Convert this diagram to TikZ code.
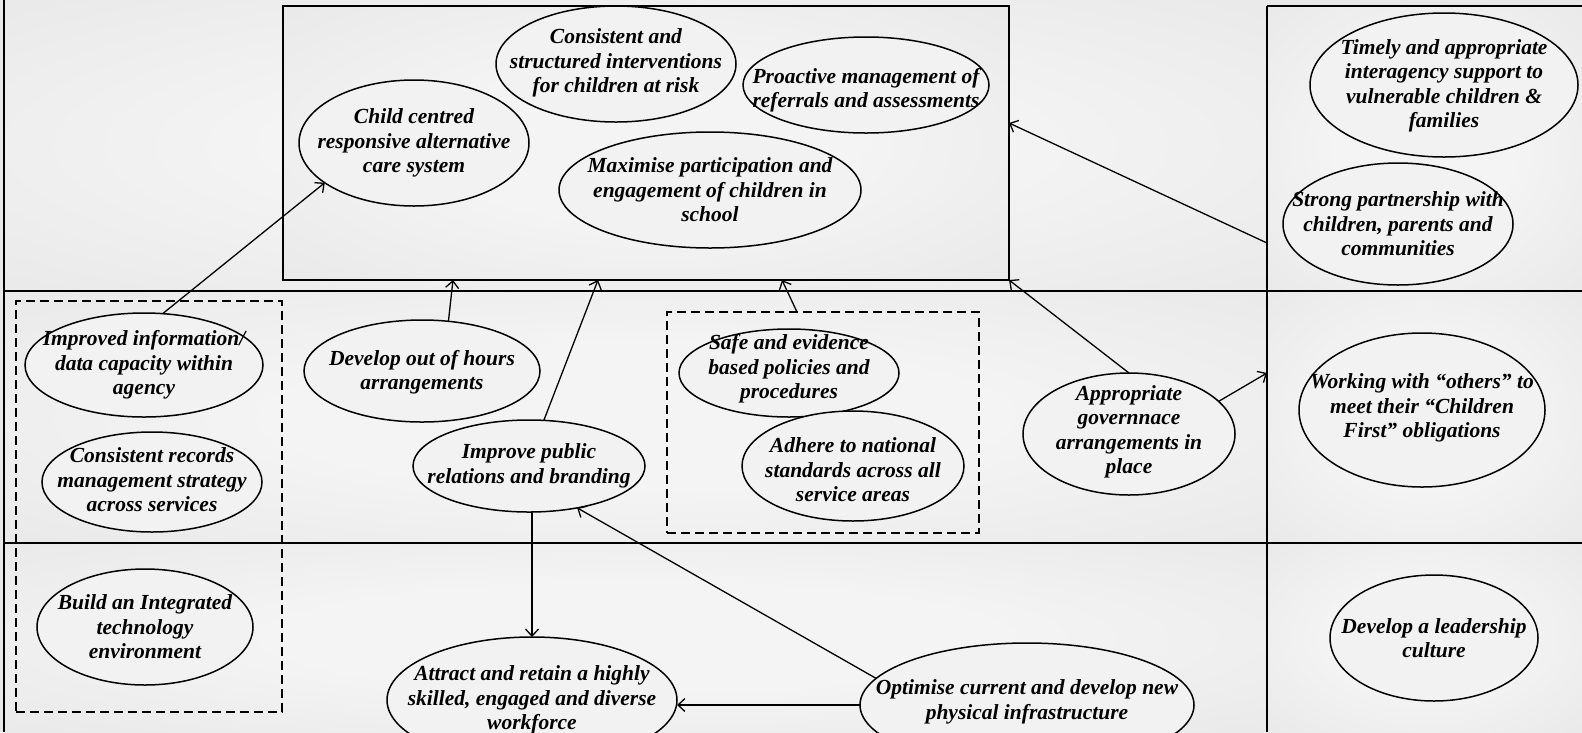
\documentclass[tikz,border=0pt]{standalone}
\usepackage{fontspec}
\setmainfont{Liberation Serif}
\usetikzlibrary{shapes.geometric,arrows.meta,calc}
\definecolor{bgin}{gray}{0.955}
\definecolor{bgmid}{gray}{0.91}
\definecolor{bgout}{gray}{0.82}
\definecolor{ellfill}{gray}{0.95}
\pgfdeclareradialshading{bgshade}{\pgfpointorigin}{color(0bp)=(bgin); color(15bp)=(bgin); color(38bp)=(bgmid); color(60bp)=(bgout); color(71bp)=(bgout)}
\newcommand{\lblfont}{\fontsize{21.5}{24.5}\selectfont\bfseries\itshape}
\begin{document}
\begin{tikzpicture}[x=1pt,y=-1pt,
  ell/.style={draw, line width=1.5pt, ellipse, fill=ellfill, inner sep=0pt, outer sep=0pt},
  lbl/.style={align=center, font=\lblfont, inner sep=0pt},
  arr/.style={-{Straight Barb[length=7pt,width=13pt,line width=1.3pt]}, line width=1.3pt},
  gridline/.style={line width=1.9pt},
  grpbox/.style={draw, dash pattern=on 9pt off 5pt, line width=1.3pt, inner sep=0pt, outer sep=0pt},
  cell/.style={shading=bgshade}]
\useasboundingbox (0,0) rectangle (1582,732);
\clip (0,0) rectangle (1582,732);
% background cells
\fill[color=bgmid] (0,0) rectangle (1582,732);
\shade[cell] (5,0) rectangle (1267,291);
\shade[cell] (1267,6) rectangle (1582,291);
\shade[cell] (5,291) rectangle (1267,543);
\shade[cell] (1267,291) rectangle (1582,543);
\shade[cell] (5,543) rectangle (1267,732);
\shade[cell] (1267,543) rectangle (1582,732);
% grid
\draw[gridline] (4,0) -- (4,732);
\draw[gridline] (4,291) -- (1582,291);
\draw[gridline] (4,543) -- (1582,543);
\draw[gridline] (1267,6) -- (1267,732);
\draw[gridline] (1267,6) -- (1582,6);
% top outcome box
\node[draw, line width=1.6pt, cell, minimum width=726pt, minimum height=274pt, inner sep=0pt, outer sep=0pt] (box) at (646,143) {};
% dashed group boxes
\node[grpbox, minimum width=266pt, minimum height=411pt] (leftgrp) at (149,506.5) {};
\node[grpbox, minimum width=312pt, minimum height=221pt] (midgrp) at (823,422.5) {};
% ellipses
\node[ell, minimum width=230pt, minimum height=126pt] (cc) at (414,143) {};
\node[ell, minimum width=240pt, minimum height=116pt] (cons) at (616,64) {};
\node[ell, minimum width=246pt, minimum height=96pt] (proa) at (866,85) {};
\node[ell, minimum width=302pt, minimum height=116pt] (maxi) at (710,190) {};
\node[ell, minimum width=268pt, minimum height=144pt] (timely) at (1444,85) {};
\node[ell, minimum width=230pt, minimum height=122pt] (strong) at (1398,224) {};
\node[ell, minimum width=238pt, minimum height=104pt] (info) at (144,365) {};
\node[ell, minimum width=220pt, minimum height=100pt] (recs) at (152,482) {};
\node[ell, minimum width=236pt, minimum height=102pt] (dev) at (422,371) {};
\node[ell, minimum width=232pt, minimum height=92pt] (pr) at (529,466) {};
\node[ell, minimum width=220pt, minimum height=88pt] (safe) at (789,373) {};
\node[ell, minimum width=222pt, minimum height=110pt] (adhere) at (853,466) {};
\node[ell, minimum width=212pt, minimum height=122pt] (gov) at (1129,434) {};
\node[ell, minimum width=246pt, minimum height=154pt] (work) at (1422,410) {};
\node[ell, minimum width=216pt, minimum height=116pt] (build) at (145,627) {};
\node[ell, minimum width=290pt, minimum height=126pt] (att) at (532,700) {};
\node[ell, minimum width=334pt, minimum height=124pt] (opt) at (1027,705) {};
\node[ell, minimum width=208pt, minimum height=126pt] (lead) at (1434,638) {};
% labels
\node[lbl] at (cc) {Child centred\\responsive alternative\\care system};
\node[lbl] at (616,63) {Consistent and\\structured interventions\\for children at risk};
\node[lbl] at (866,90) {Proactive management of\\referrals and assessments};
\node[lbl] at (710,190) {Maximise participation and\\engagement of children in\\school};
\node[lbl] at (1444,86) {Timely and appropriate\\interagency support to\\vulnerable children \&\\families};
\node[lbl] at (1398,224) {Strong partnership with\\children, parents and\\communities};
\node[lbl] at (144,365) {Improved information/\\data capacity within\\agency};
\node[lbl] at (152,480) {Consistent records\\management strategy\\across services};
\node[lbl] at (422,372) {Develop out of hours\\arrangements};
\node[lbl] at (529,466) {Improve public\\relations and branding};
\node[lbl] at (789,369) {Safe and evidence\\based policies and\\procedures};
\node[lbl] at (853,470) {Adhere to national\\standards across all\\service areas};
\node[lbl] at (1129,432) {Appropriate\\governnace\\arrangements in\\place};
\node[lbl] at (1422,408) {Working with “others” to\\meet their “Children\\First” obligations};
\node[lbl] at (145,627) {Build an Integrated\\technology\\environment};
\node[lbl] at (532,700) {Attract and retain a highly\\skilled, engaged and diverse\\workforce};
\node[lbl] at (1027,702) {Optimise current and develop new\\physical infrastructure};
\node[lbl] at (1434,638) {Develop a leadership\\culture};
% free ends
\coordinate (bA) at (453,280);
\coordinate (bB) at (598,280);
\coordinate (bC) at (782,280);
\coordinate (bE) at (1009,123);
\coordinate (gA) at (797,312);
\coordinate (rA) at (1267,243);
\coordinate (rB) at (1267,373);
% connectors
\draw[arr] (info.70) -- (cc.204);
\draw[arr] (dev.62) -- (bA);
\draw[arr] (pr.72) -- (bB);
\draw[arr] (gA) -- (bC);
\draw[arr] (gov.north) -- (box.south east);
\draw[arr] (gov.20) -- (rB);
\draw[arr] (rA) -- (bE);
\draw[arr] (pr.south -| 532,0) -- (att.north -| 532,0);
\draw[arr] (opt.170) -- (pr.319);
\draw[arr] (opt.west) -- (opt.west -| att.east);
\end{tikzpicture}
\end{document}
